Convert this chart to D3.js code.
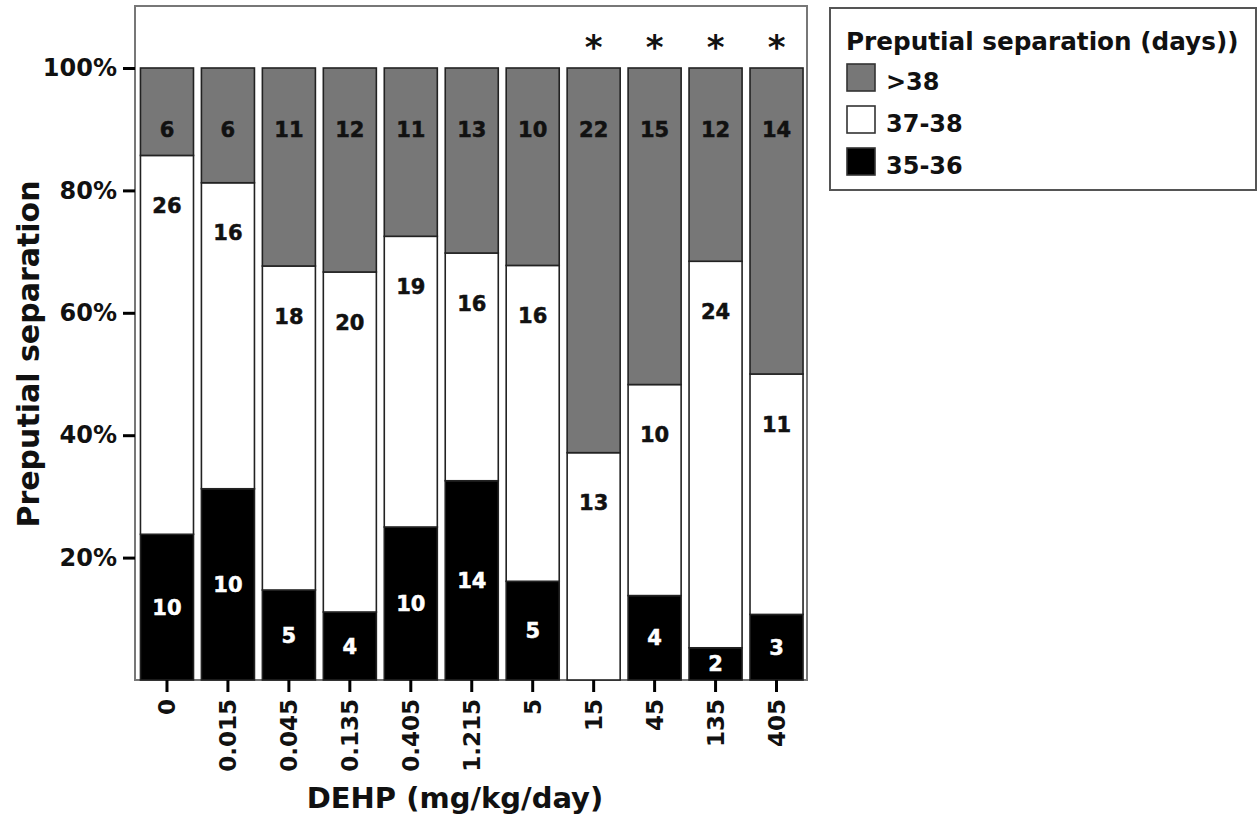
<!DOCTYPE html>
<html>
<head>
<meta charset="utf-8">
<script src="https://cdn.jsdelivr.net/npm/d3@7"></script>
<style>
  html, body { margin: 0; padding: 0; background: #fff; }
  svg { display: block; }
  text { font-family: "DejaVu Sans", "Liberation Sans", Arial, sans-serif; font-weight: bold; }
</style>
</head>
<body>
<svg id="chart" width="1259" height="820"></svg>
<script>
// ---- Data (counts of animals per dose group) ----
const doses = ["0", "0.015", "0.045", "0.135", "0.405", "1.215", "5", "15", "45", "135", "405"];
const early = [10, 10, 5, 4, 10, 14, 5, 0, 4, 2, 3];        // 35-36 days
const mid   = [26, 16, 18, 20, 19, 16, 16, 13, 10, 24, 11]; // 37-38 days
const late  = [6, 6, 11, 12, 11, 13, 10, 22, 15, 12, 14];   // >38 days
const significant = ["15", "45", "135", "405"];
const seriesKeys = ["35-36", "37-38", ">38"];
const yTicks = [0.2, 0.4, 0.6, 0.8, 1.0];

const rows = doses.map((d, i) => ({ dose: d, "35-36": early[i], "37-38": mid[i], ">38": late[i] }));

const svg = d3.select("#chart");
const frame = { left: 135, right: 807, top: 6, bottom: 680 };

const x = d3.scaleBand().domain(doses).range([136.5, 807]).paddingInner(0.13).paddingOuter(0.065);
const y = d3.scaleLinear().domain([0, 1]).range([680, 68]);

const fills = { "35-36": "#000000", "37-38": "#ffffff", ">38": "#777777" };
const labelColor = { "35-36": "#ffffff", "37-38": "#111111", ">38": "#111111" };

const stacked = d3.stack().keys(seriesKeys).offset(d3.stackOffsetExpand)(rows);

// frame
svg.append("rect")
  .attr("x", frame.left).attr("y", frame.top)
  .attr("width", frame.right - frame.left).attr("height", frame.bottom - frame.top)
  .attr("fill", "none").attr("stroke", "#777").attr("stroke-width", 2);

// bars
const layers = svg.append("g").selectAll("g").data(stacked).join("g")
  .attr("fill", d => fills[d.key]);
layers.selectAll("rect").data(d => d).join("rect")
  .attr("x", d => x(d.data.dose))
  .attr("y", d => y(d[1]))
  .attr("width", x.bandwidth())
  .attr("height", d => y(d[0]) - y(d[1]))
  .attr("stroke", "#222").attr("stroke-width", 1.6);

// segment count labels
stacked.forEach(layer => {
  const key = layer.key;
  svg.append("g").selectAll("text").data(layer.filter(d => d.data[key] > 0)).join("text")
    .attr("x", d => x(d.data.dose) + x.bandwidth() / 2)
    .attr("y", d => {
      const top = y(d[1]), bot = y(d[0]), ctr = (top + bot) / 2;
      if (key === ">38") return y(0.9);
      if (key === "37-38") return Math.min(ctr, top + 50);
      return ctr;
    })
    .attr("dy", "0.36em")
    .attr("text-anchor", "middle")
    .attr("font-size", 21)
    .attr("fill", labelColor[key])
    .attr("stroke", labelColor[key]).attr("stroke-width", 0.5)
    .text(d => d.data[key]);
});

// significance asterisks
svg.append("g").selectAll("text").data(significant).join("text")
  .attr("x", d => x(d) + x.bandwidth() / 2)
  .attr("y", 59)
  .attr("text-anchor", "middle")
  .attr("font-size", 34)
  .attr("fill", "#111")
  .text("*");

// y axis
const yAxis = svg.append("g").attr("transform", `translate(${frame.left},0)`)
  .call(d3.axisLeft(y).tickValues(yTicks).tickFormat(d3.format(".0%")).tickSize(12).tickPadding(6));
yAxis.select(".domain").remove();
yAxis.selectAll(".tick line").attr("stroke", "#000").attr("stroke-width", 3);
yAxis.selectAll(".tick text").attr("font-size", 24).attr("fill", "#111")
  .attr("font-family", "'DejaVu Sans', sans-serif").attr("font-weight", "bold");

// x axis
const xAxis = svg.append("g").attr("transform", `translate(0,${frame.bottom})`)
  .call(d3.axisBottom(x).tickSize(12).tickPadding(6));
xAxis.select(".domain").remove();
xAxis.selectAll(".tick line").attr("stroke", "#000").attr("stroke-width", 3);
xAxis.selectAll(".tick text")
  .attr("font-size", 23).attr("fill", "#111")
  .attr("font-family", "'DejaVu Sans', sans-serif").attr("font-weight", "bold")
  .attr("transform", "rotate(-90)")
  .attr("text-anchor", "end")
  .attr("x", -19).attr("y", 0).attr("dy", "0.36em");

// axis titles
svg.append("text")
  .attr("x", 455).attr("y", 808)
  .attr("text-anchor", "middle").attr("font-size", 29).attr("fill", "#111")
  .text("DEHP (mg/kg/day)");
svg.append("text")
  .attr("transform", "translate(39,354) rotate(-90)")
  .attr("text-anchor", "middle").attr("font-size", 30).attr("fill", "#111")
  .text("Preputial separation");

// legend
const lg = svg.append("g");
lg.append("rect").attr("x", 830).attr("y", 8).attr("width", 426).attr("height", 182)
  .attr("fill", "#fff").attr("stroke", "#555").attr("stroke-width", 2);
lg.append("text").attr("x", 846).attr("y", 50).attr("font-size", 24.7).attr("fill", "#111")
  .text("Preputial separation (days))");
const legendKeys = [">38", "37-38", "35-36"];
legendKeys.forEach((k, i) => {
  const yy = 64 + i * 42;
  lg.append("rect").attr("x", 847).attr("y", yy).attr("width", 28).attr("height", 27)
    .attr("fill", fills[k]).attr("stroke", "#333").attr("stroke-width", 1.6);
  lg.append("text").attr("x", 886).attr("y", yy + 26).attr("font-size", 24).attr("fill", "#111").text(k);
});
</script>
</body>
</html>
